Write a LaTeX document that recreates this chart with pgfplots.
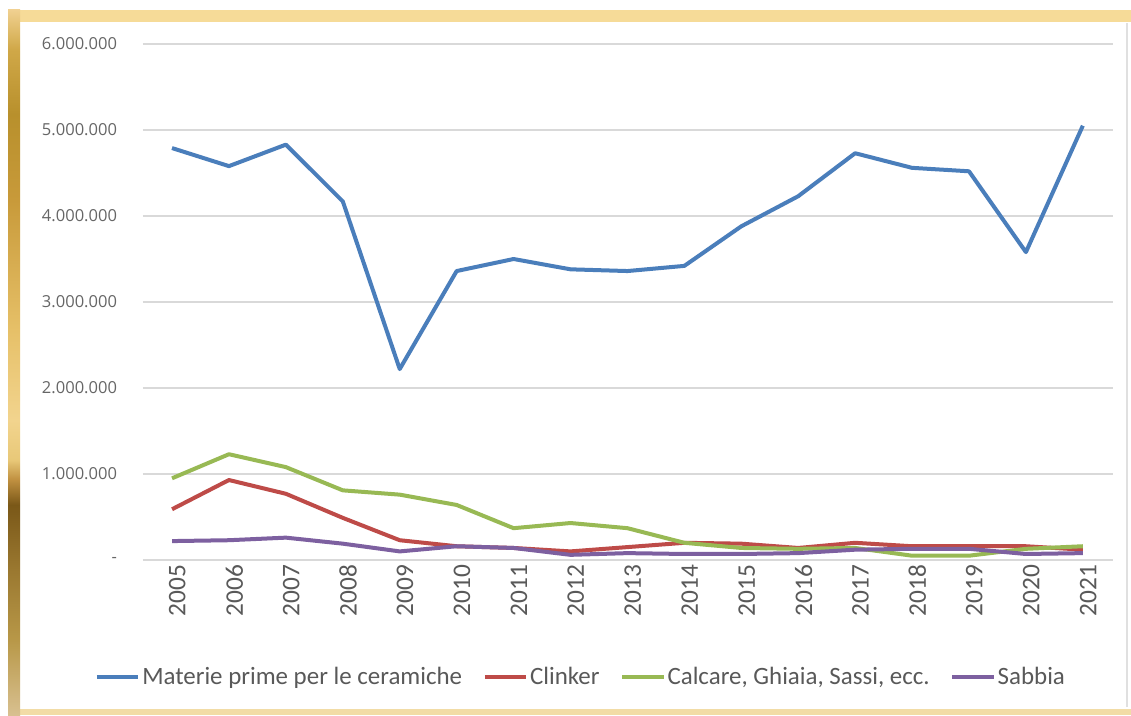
\documentclass[border=0pt]{standalone}
\usepackage{pgfplots}
\pgfplotsset{compat=1.18}
\usepackage{fontspec}
\setmainfont{Carlito}
\newfontfamily\osans{Open Sans}
\definecolor{cblue}{HTML}{4A7EBB}
\definecolor{cred}{HTML}{BE4B48}
\definecolor{cgreen}{HTML}{98B954}
\definecolor{cpurple}{HTML}{7D60A0}
\definecolor{tgray}{HTML}{595959}
\definecolor{ygray}{HTML}{666666}
\definecolor{ggray}{HTML}{D9D9D9}
\definecolor{goldlight}{HTML}{F6DB98}
\definecolor{goldbot}{HTML}{F2DCA6}
\definecolor{g01}{HTML}{D8C090}
\definecolor{g02}{HTML}{B89848}
\definecolor{g03}{HTML}{9A7830}
\definecolor{g04}{HTML}{7A5818}
\definecolor{g05}{HTML}{C09040}
\definecolor{g06}{HTML}{E8C878}
\definecolor{g07}{HTML}{F2D48E}
\definecolor{g08}{HTML}{E6C068}
\definecolor{g09}{HTML}{C89A3A}
\definecolor{g10}{HTML}{B8902C}
\definecolor{g11}{HTML}{D0A848}
\definecolor{g12}{HTML}{F0D090}
\pgfdeclareverticalshading{goldbar}{100bp}{%
  color(0bp)=(g01);
  color(25bp)=(g01);
  color(30.3bp)=(g02);
  color(35.3bp)=(g03);
  color(39.9bp)=(g04);
  color(41.7bp)=(g05);
  color(43.1bp)=(g06);
  color(45.9bp)=(g07);
  color(52.3bp)=(g08);
  color(61.5bp)=(g09);
  color(67.6bp)=(g10);
  color(72.2bp)=(g11);
  color(75bp)=(g12);
  color(100bp)=(g12)}
\begin{document}
\begin{tikzpicture}[x=0.75pt,y=0.75pt]
\path[use as bounding box] (0,0) rectangle (1131,715);
\fill[white] (0,0) rectangle (1131,715);
% decorative frame
\fill[goldlight] (8,693) rectangle (1131,705);
\fill[goldbot] (8,0) rectangle (1131,6);
\shade[shading=goldbar] (8,0) rectangle (20,705);
\draw[black!12, line width=0.8pt] (1127,8) -- (1127,692);
\begin{axis}[
  at={(107.25pt,116.25pt)}, anchor=south west,
  scale only axis, width=727.5pt, height=387pt,
  xmin=2004.49, xmax=2021.53,
  ymin=0, ymax=6000000,
  axis line style={draw=none},
  tick style={draw=none},
  ymajorgrids, grid style={ggray, line width=1.1pt},
  ytick={0,1000000,2000000,3000000,4000000,5000000,6000000},
  yticklabels={-,1.000.000,2.000.000,3.000.000,4.000.000,5.000.000,6.000.000},
  scaled y ticks=false,
  yticklabel style={font=\osans\fontsize{12.4}{14}\selectfont, text=ygray, xshift=-16pt},
  xtick={2005,2006,2007,2008,2009,2010,2011,2012,2013,2014,2015,2016,2017,2018,2019,2020,2021},
  xticklabels={2005,2006,2007,2008,2009,2010,2011,2012,2013,2014,2015,2016,2017,2018,2019,2020,2021},
  xticklabel style={font=\fontsize{19}{22}\selectfont, text=tgray, rotate=90, anchor=east, yshift=-4pt},
  legend columns=4,
  legend style={at={(0.4515,-0.2267)}, anchor=center, draw=none, fill=none,
    font=\fontsize{18.7}{22}\selectfont, text=tgray,
    nodes={inner xsep=1.5pt},
    /tikz/every even column/.append style={column sep=14pt}},
  legend image code/.code={\draw[#1, line width=3pt] (0pt,0pt) -- (31pt,0pt);},
  every axis plot/.append style={line width=3pt, line join=round, no markers},
]
\addplot[cblue] coordinates {
(2005,4790000) (2006,4580000) (2007,4830000) (2008,4170000) (2009,2220000)
(2010,3360000) (2011,3500000) (2012,3380000) (2013,3360000) (2014,3420000)
(2015,3880000) (2016,4230000) (2017,4730000) (2018,4560000) (2019,4520000)
(2020,3580000) (2021,5050000)};
\addlegendentry{Materie prime per le ceramiche}
\addplot[cred] coordinates {
(2005,590000) (2006,930000) (2007,770000) (2008,490000) (2009,230000)
(2010,160000) (2011,140000) (2012,100000) (2013,150000) (2014,200000)
(2015,190000) (2016,140000) (2017,200000) (2018,160000) (2019,160000)
(2020,160000) (2021,120000)};
\addlegendentry{Clinker}
\addplot[cgreen] coordinates {
(2005,950000) (2006,1230000) (2007,1080000) (2008,810000) (2009,760000)
(2010,640000) (2011,370000) (2012,430000) (2013,370000) (2014,200000)
(2015,140000) (2016,130000) (2017,140000) (2018,50000) (2019,50000)
(2020,130000) (2021,160000)};
\addlegendentry{Calcare, Ghiaia, Sassi, ecc.}
\addplot[cpurple] coordinates {
(2005,220000) (2006,230000) (2007,260000) (2008,190000) (2009,100000)
(2010,160000) (2011,140000) (2012,60000) (2013,80000) (2014,70000)
(2015,70000) (2016,80000) (2017,120000) (2018,130000) (2019,130000)
(2020,70000) (2021,80000)};
\addlegendentry{Sabbia}
\end{axis}
\end{tikzpicture}
\end{document}
